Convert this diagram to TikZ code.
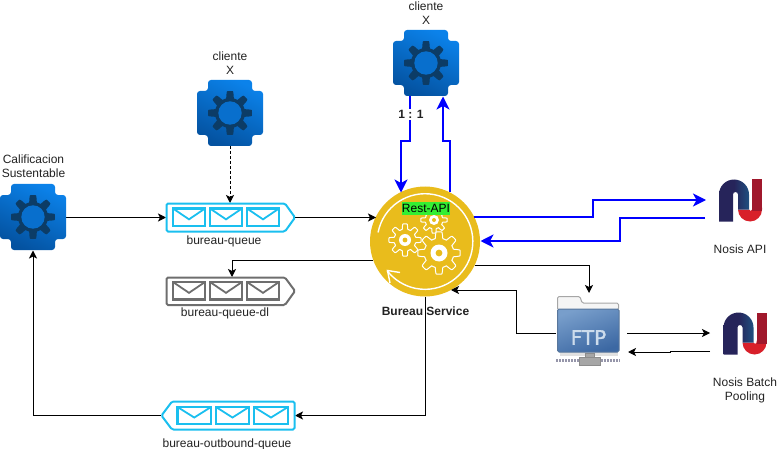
\documentclass[tikz,border=0pt]{standalone}
\usepackage{fontspec}
\setmainfont{Liberation Sans}
\newfontfamily\ftpfont[FakeBold=1.5]{DejaVu Sans}
\usetikzlibrary{arrows.meta,shapes.geometric,calc}
\definecolor{qcyan}{HTML}{1ABFEF}
\definecolor{qgray}{HTML}{6E6E6E}
\definecolor{bgold}{HTML}{E9BC1C}
\definecolor{gearDark}{HTML}{0C3C66}
\definecolor{iconTop}{HTML}{0B82EA}
\definecolor{iconBot}{HTML}{0452A0}
\definecolor{txt}{HTML}{222222}
\definecolor{flow}{HTML}{0000FF}
\definecolor{restgreen}{HTML}{33EE33}
\definecolor{logoNavy}{HTML}{26245A}
\definecolor{logoBlue}{HTML}{1F5080}
\definecolor{logoRed}{HTML}{D8202A}
\definecolor{logoDark}{HTML}{A0182C}
\tikzset{
  slot/.style={inner sep=0pt,outer sep=0pt,minimum width=#1},
  lbl/.style={font=\fontsize{12}{14}\selectfont,text=txt,align=center,inner sep=0pt},
  arr/.style={draw=black,line width=1pt,-{Stealth[length=8pt,width=8pt,inset=2pt]}},
  barr/.style={draw=flow,line width=2pt,-{Stealth[length=13pt,width=13pt,inset=3.5pt]}},
}
\newcommand\crossicon[2]{%
  \begin{scope}[shift={(#1,#2)}]
    \shade[top color=iconTop,bottom color=iconBot,shading angle=-25,rounded corners=3pt]
      (-22,-33)--(22,-33)--(22,-22)--(33,-22)--(33,22)--(22,22)--(22,33)--(-22,33)--(-22,22)--(-33,22)--(-33,-22)--(-22,-22)--cycle;
    \fill[gearDark] plot[domain=0:360,samples=181] ({(18.5+3.5*max(-1,min(1,2.2*cos(8*\x))))*cos(\x)},{(18.5+3.5*max(-1,min(1,2.2*cos(8*\x))))*sin(\x)})--cycle;
    \fill[iconTop!60!iconBot] (0,0) circle[radius=11.7];
  \end{scope}}
\newcommand\whitegear[5]{%
  \filldraw[fill=bgold,draw=white,line width=1pt,line join=round] plot[domain=0:360,samples=181] ({#1+(#3+#4*max(-1,min(1,2.2*cos(8*\x))))*cos(\x)},{#2+(#3+#4*max(-1,min(1,2.2*cos(8*\x))))*sin(\x)})--cycle;
  \fill[white] (#1,#2) circle[radius=#5];
  \fill[bgold] (#1,#2) circle[radius=#5*0.4];}
\newcommand\envelope[5]{%
  \draw[#5,line width=2.4pt,line join=miter] (#1,#2) rectangle (#3,#4);
  \draw[#5,line width=1.8pt] (#1,#2) -- ({(#1+#3)/2},{#2+0.62*(#4-#2)}) -- (#3,#2);}
\newcommand\nosislogo[2]{%
  \begin{scope}[shift={(#1,#2)}]
    \fill[logoRed]
      (19,30) arc[start angle=180,end angle=0,radius=12] -- (43,28) -- (33,28) -- (33,30)
      arc[start angle=0,end angle=180,radius=1.5] -- cycle;
    \fill[logoDark] (33,0) rectangle (43,31);
    \shade[left color=logoNavy,right color=logoBlue,middle color=logoNavy]
      (0,42) -- (0,15) arc[start angle=180,end angle=360,radius=15] -- (30,30) -- (19,30) -- (19,15)
      arc[start angle=360,end angle=180,radius=2.5] -- (14,42) -- cycle;
  \end{scope}}
\begin{document}
\begin{tikzpicture}[x=1pt,y=-1pt]
\useasboundingbox (0,0) rectangle (781,449);
\node[slot=66pt,minimum height=66pt] (calif) at (33,217.5) {};
\node[slot=66pt,minimum height=66pt] (clientA) at (230,113) {};
\node[slot=66pt,minimum height=66pt] (clientB) at (426,63) {};
\node[slot=129pt,minimum height=29pt] (queue) at (230.5,217.5) {};
\node[slot=129pt,minimum height=28pt] (dlq) at (230.5,291) {};
\node[slot=134pt,minimum height=29pt] (outq) at (228,415.5) {};
\node[circle,slot=110pt] (bureau) at (425,241.5) {};
\node[slot=64pt,minimum height=70pt] (ftp) at (589,330) {};
\node[slot=44pt,minimum height=42pt] (api) at (740,201) {};
\node[slot=44pt,minimum height=44pt] (batch) at (745,333.5) {};
\coordinate (a1) at (410,141);
\coordinate (a2) at (401,141);
\coordinate (a3) at (401,192.5);
\coordinate (b1) at (449.5,192);
\coordinate (b2) at (449.5,141);
\coordinate (b3) at (443,141);
\coordinate (b4) at (443,96.5);
\coordinate (c1) at (474,217);
\coordinate (c2) at (593,217);
\coordinate (c3) at (593,200);
\coordinate (c4) at (706,200);
\coordinate (d1) at (705,218);
\coordinate (d2) at (620,218);
\coordinate (d3) at (620,241);
\coordinate (d4) at (480.5,241);
\coordinate (e1) at (376,217.5);
\coordinate (f1) at (373,260);
\coordinate (f2) at (232,260);
\coordinate (f3) at (232,277);
\coordinate (g1) at (474.5,265);
\coordinate (g2) at (589,265);
\coordinate (g3) at (589,293);
\coordinate (h1) at (556,333);
\coordinate (h2) at (516,333);
\coordinate (h3) at (516,290);
\coordinate (h4) at (451,290);
\coordinate (i1) at (627,333);
\coordinate (i2) at (710,333);
\coordinate (j1) at (710,351);
\coordinate (j2) at (670,351);
\coordinate (j3) at (670,352);
\coordinate (j4) at (628,352);
\coordinate (k1) at (425,296.5);
\coordinate (k2) at (425,415.5);
\coordinate (l1) at (33,415.5);
% ---- bureau disc
\fill[bgold] (bureau.center) circle[radius=55];
\draw[white,line width=1.4pt] (378.1,232.4) arc[start angle=191,end angle=502.3,radius=47.8];
\draw[white,line width=1.4pt,line join=miter] (390,283) -- (387.5,270.5) -- (400,272.5);
\whitegear{434}{220}{11}{2.2}{5}
\whitegear{405}{240}{13.5}{2.6}{6}
\whitegear{439}{253}{18}{3.2}{8.5}
\node[fill=restgreen,inner sep=0pt,minimum width=48pt,minimum height=13pt,font=\fontsize{12}{14}\selectfont,text=black] (rest) at (426,208.5) {Rest-API};
% ---- connectors
\draw[arr] (calif.east) -- (queue.west);
\draw[arr,dash pattern=on 3pt off 2pt] (clientA.south) -- (clientA.south |- queue.north);
\draw[arr] (queue.east) -- (e1);
\draw[arr] (f1) -- (f2) -- (f3);
\draw[arr] (g1) -- (g2) -- (g3);
\draw[arr] (h1) -- (h2) -- (h3) -- (h4);
\draw[arr] (i1) -- (i2);
\draw[arr] (j1) -- (j2) -- (j3) -- (j4);
\draw[arr] (k1) -- (k2) -- (outq.east);
\draw[arr] (outq.west) -- (l1) -- (calif.south);
\draw[barr] (clientB.south -| a1) -- (a1) -- (a2) -- (a3);
\draw[barr] (b1) -- (b2) -- (b3) -- (b4);
\draw[barr] (c1) -- (c2) -- (c3) -- (c4);
\draw[barr] (d1) -- (d2) -- (d3) -- (d4);
% ---- icons
\crossicon{33}{217}
\crossicon{230}{113}
\crossicon{426}{63}
% ---- queue bureau-queue
\draw[qcyan,line width=2pt,rounded corners=1.5pt] (166.5,203.5)--(285,203.5)--(295,217.5)--(285,231.5)--(166.5,231.5)--cycle;
\envelope{173}{208.5}{205}{226}{qcyan}
\envelope{210}{208.5}{242}{226}{qcyan}
\envelope{247}{208.5}{279}{226}{qcyan}
% ---- queue dl
\draw[qgray,line width=2pt,rounded corners=1.5pt] (166.5,277.5)--(285,277.5)--(295,291)--(285,305)--(166.5,305)--cycle;
\envelope{173}{282}{205}{299.5}{qgray}
\envelope{210}{282}{242}{299.5}{qgray}
\envelope{247}{282}{279}{299.5}{qgray}
% ---- queue outbound
\draw[qcyan,line width=2pt,rounded corners=1.5pt] (294.5,401.5)--(172,401.5)--(161.5,415.5)--(172,429.5)--(294.5,429.5)--cycle;
\envelope{177.5}{407}{211}{424}{qcyan}
\envelope{216}{407}{249}{424}{qcyan}
\envelope{254}{407}{288}{424}{qcyan}
% ---- FTP
\fill[black!12] (560,352) rectangle (618,356);
\draw[color={rgb,255:red,150;green,150;blue,170},line width=2.5pt,dash pattern=on 2pt off 1pt] (556,360.5) -- (620,360.5);
\filldraw[fill=black!35,draw=black!45,line width=.7pt] (585,353) rectangle (594,357) (579,357) rectangle (600,365);
\filldraw[fill=white!96!black,draw=black!35,line width=1pt,rounded corners=1.5pt] (557.5,310) -- (557.5,296.5) -- (580,296.5) -- (582,303) -- (618.5,303) -- (618.5,310) -- cycle;
\shade[top color={rgb,255:red,120;green,158;blue,203},bottom color={rgb,255:red,60;green,104;blue,163},shading angle=20,rounded corners=1.5pt] (557.5,309) rectangle (619,352);
\draw[color={rgb,255:red,88;green,118;blue,155},line width=1pt,rounded corners=1.5pt] (557.5,309) rectangle (619,352);
\node[font=\ftpfont\fontsize{20}{22}\selectfont,text={rgb,255:red,205;green,220;blue,236},inner sep=0pt] (ftptext) at (588.5,337.5) {FTP};
% ---- logos
\nosislogo{719}{179.5}
\nosislogo{723.5}{312.5}
% ---- labels
\node[lbl] (lclientB) at (426,13) {cliente\\X};
\node[lbl] (lclientA) at (230,63) {cliente\\X};
\node[lbl] (lcalif) at (33.5,166.5) {Calificacion\\Sustentable};
\node[lbl] (lqueue) at (224,241) {bureau-queue};
\node[lbl] (ldl) at (225,313) {bureau-queue-dl};
\node[lbl] (lout) at (227,444) {bureau-outbound-queue};
\node[lbl,font=\fontsize{12}{14}\selectfont\bfseries] (lbureau) at (425.5,311) {Bureau Service};
\node[lbl] (lapi) at (740,249.5) {Nosis API};
\node[lbl] (lbatch) at (745,390) {Nosis Batch\\Pooling};
\node[lbl,fill=white,inner sep=1.5pt,font=\fontsize{12}{14}\selectfont\bfseries] (lratio) at (411,114.5) {1 : 1};
\end{tikzpicture}
\end{document}
